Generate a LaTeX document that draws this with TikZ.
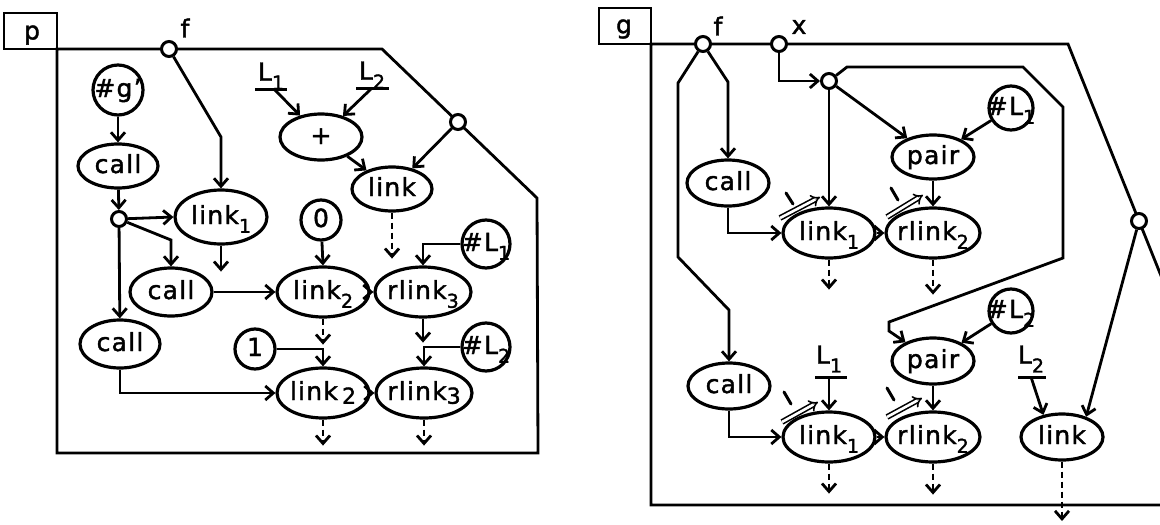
\documentclass[tikz,border=0pt]{standalone}
\usepackage{fontspec}
\newfontfamily\hand[LetterSpace=5,FakeBold=1.6]{DejaVu Sans}
\usetikzlibrary{shapes.geometric,arrows.meta}
\newcommand\subx[1]{\raisebox{-0.35em}{\fontsize{19}{22}\selectfont #1}}
\newcommand\subb[1]{\raisebox{-0.15em}{\fontsize{22}{24}\selectfont #1}}
\newcommand\mb[1]{\makebox[0pt]{#1}}
\begin{document}
\begin{tikzpicture}[x=1pt,y=-1pt,line width=2.8pt,
  every node/.style={font=\hand\fontsize{25}{30}\selectfont},
  arr/.style={-{Straight Barb[length=8pt,width=14pt]}},
  darr/.style={arr,dash pattern=on 6pt off 4pt},
  el/.style 2 args={ellipse,draw,line width=3.2pt,inner sep=0pt,minimum width=#1,minimum height=#2,text height=19pt,text depth=5pt},
  cir/.style={circle,draw,line width=3.2pt,inner sep=0pt,minimum size=#1,text height=19pt,text depth=5pt},
  port/.style={circle,draw,line width=3pt,inner sep=0pt,minimum size=15pt,fill=white,
    path picture={\fill (path picture bounding box.center) circle (2.8pt);}},
  frame/.style={line width=2.8pt},
  bar/.style={line width=3pt},
  dbl/.style={double,double distance=2.6pt,line width=1.6pt,-{Implies}},
  slashmark/.style={line width=3pt,line cap=round}]
\useasboundingbox (0,0) rectangle (1160,525);
\clip (0,0) rectangle (1160,525);

% ================= LEFT: p =================
\draw[frame] (4,13) rectangle (57,49);
\node (plab) at (32,35) {p};
\draw[frame] (57,49) -- (382,49) -- (537,198) -- (538,453) -- (57,453) -- cycle;

\node[port] (fL) at (169,49) {};
\node (fLt) at (185,28) {f};
\node[port] (pR) at (458,122) {};

\node[cir=50pt] (gp) at (118,90) {\mb{\#g’}};
\node[el={80pt}{44pt}] (callA) at (118,166) {\mb{call}};
\node[port] (dotL) at (119,219) {};
\node[el={92pt}{54pt}] (link1L) at (221,217) {\mb{link\subx1}};
\node[el={82pt}{48pt}] (callB) at (171,292) {\mb{call}};
\node[el={80pt}{48pt}] (callC) at (120,344) {\mb{call}};
\node[el={82pt}{46pt}] (plus) at (321,137) {\mb{+}};
\node[el={80pt}{44pt}] (linkL) at (392,189) {\mb{link}};
\node[cir=40pt] (zero) at (321,220) {\mb{0}};
\node[el={92pt}{50pt}] (link2L) at (323,292) {\mb{link\subx2}};
\node[el={96pt}{50pt}] (rlink3L) at (423,292) {\mb{rlink\subx3}};
\node[cir=48pt] (hL1) at (486,244) {\mb{\#L\subx1}};
\node[cir=40pt] (one) at (255,349) {\mb{1}};
\node[el={92pt}{50pt}] (link2bL) at (323,393) {\mb{link\,\subb2}};
\node[el={96pt}{50pt}] (rlink3bL) at (424,393) {\mb{rlink\subb3}};
\node[cir=48pt] (hL2) at (486,347) {\mb{\#L\subx2}};

\node (L1L) at (271,76) {L\subx1};
\coordinate (l1a) at (255,89); \coordinate (l1b) at (287,89); \coordinate (l1m) at (274,89);
\draw[bar] (l1a) -- (l1b);
\node (L2L) at (372,75) {L\subx2};
\coordinate (l2a) at (356,88); \coordinate (l2b) at (389,88); \coordinate (l2m) at (372,88);
\draw[bar] (l2a) -- (l2b);

\coordinate (bendF) at (221,137);
\coordinate (bendB) at (171,240);
\draw[arr] (fL) -- (bendF) -- (link1L.north);
\draw[arr] (gp) -- (callA);
\draw[arr] (callA) -- (dotL);
\draw[arr] (dotL) -- (link1L.west);
\draw[arr] (dotL) -- (bendB) -- (callB.north);
\draw[arr] (dotL) -- (callC);
\draw[arr] (link1L.south) -- ++(0,26) coordinate (o1);
\draw[arr] (l1m) -- (plus);
\draw[arr] (l2m) -- (plus);
\draw[arr] (plus) -- (linkL);
\draw[arr] (pR) -- (linkL);
\draw[darr] (linkL.south) -- ++(0,46) coordinate (o2);
\draw[arr] (zero) -- (link2L.north);
\draw[arr] (callB) -- (link2L);
\draw[arr] (link2L) -- (rlink3L);
\draw[arr] (hL1.west) -| (rlink3L.north);
\draw[darr] (link2L.south) -- ++(0,26) coordinate (o3);
\draw[arr] (rlink3L.south) -- ++(0,24) coordinate (o4);
\draw[arr] (one.east) -| (link2bL.north);
\draw[arr] (hL2.west) -| (rlink3bL.north);
\draw[arr] (callC.south) |- (link2bL.west);
\draw[arr] (link2bL) -- (rlink3bL);
\draw[darr] (link2bL.south) -- ++(0,26) coordinate (o5);
\draw[darr] (rlink3bL.south) -- ++(0,26) coordinate (o6);

% ================= RIGHT: g =================
\draw[frame] (599,8) rectangle (651,44);
\node (glab) at (624,29) {g};
\draw[frame] (651,44) -- (1068,44) -- (1253,505) -- (651,505) -- cycle;

\node[port] (fR) at (703,44) {};
\node (fRt) at (718,26) {f};
\node[port] (xR) at (779,44) {};
\node (xRt) at (799,27) {x};
\node[port] (jR) at (829,81) {};
\node[port] (pR2) at (1139,221) {};

\node[el={82pt}{46pt}] (callRa) at (728,183) {\mb{call}};
\node[el={92pt}{50pt}] (link1Ra) at (829,233) {\mb{link\subx1}};
\node[el={82pt}{44pt}] (pairA) at (933,157) {\mb{pair}};
\node[cir=44pt] (hL1R) at (1011,108) {\mb{\#L\subx1}};
\node[el={94pt}{50pt}] (rlink2Ra) at (933,233) {\mb{rlink\subx2}};

\node[el={82pt}{46pt}] (callRb) at (729,386) {\mb{call}};
\node[el={92pt}{50pt}] (link1Rb) at (829,437) {\mb{link\subx1}};
\node[el={82pt}{46pt}] (pairB) at (933,361) {\mb{pair}};
\node[cir=44pt] (hL2R) at (1011,311) {\mb{\#L\subx2}};
\node[el={94pt}{50pt}] (rlink2Rb) at (933,437) {\mb{rlink\subx2}};
\node[el={82pt}{46pt}] (linkR) at (1062,437) {\mb{link}};

\node (L1R) at (829,359) {L\subx1};
\coordinate (r1a) at (815,377); \coordinate (r1b) at (847,377); \coordinate (r1m) at (829,377);
\draw[bar] (r1a) -- (r1b);
\node (L2R) at (1031,359) {L\subx2};
\coordinate (r2a) at (1018,377); \coordinate (r2b) at (1046,377); \coordinate (r2m) at (1031,377);
\draw[bar] (r2a) -- (r2b);

\draw[arr] (fR) -- (728,82) -- (callRa.north);
\draw[arr] (fR) -- (678,83) -- (678,257) -- (729,310) -- (callRb.north);
\draw[arr] (xR) |- (jR);
\draw[arr] (jR) -- (link1Ra.north);
\draw[arr] (jR) -- (pairA);
\draw[arr] (jR) -- (847,67) -- (1023,67) -- (1063,107) -- (1063,258) -- (889,322) -- (889,331) -- (pairB);
\draw[arr] (hL1R) -- (pairA);
\draw[arr] (pairA) -- (rlink2Ra);
\draw[arr] (callRa.south) |- (link1Ra.west);
\draw[arr] (link1Ra) -- (rlink2Ra);
\draw[darr] (link1Ra.south) -- ++(0,30) coordinate (q1);
\draw[darr] (rlink2Ra.south) -- ++(0,35) coordinate (q2);

\draw[arr] (callRb.south) |- (link1Rb.west);
\draw[arr] (r1m) -- (link1Rb.north);
\draw[arr] (link1Rb) -- (rlink2Rb);
\draw[arr] (hL2R) -- (pairB);
\draw[arr] (pairB) -- (rlink2Rb);
\draw[darr] (link1Rb.south) -- ++(0,30) coordinate (q3);
\draw[darr] (rlink2Rb.south) -- ++(0,31) coordinate (q4);
\draw[arr] (r2m) -- (linkR.130);
\draw[arr] (pR2) -- (linkR.40);
\draw[darr] (linkR.south) -- (1062,521);

% double arrows with marks
\draw[dbl] (780,218) -- (820,197);
\draw[slashmark] (786,193) -- (793,204);
\draw[dbl] (887,217) -- (923,195);
\draw[slashmark] (891,188) -- (898,200);
\draw[dbl] (782,422) -- (818,402);
\draw[slashmark] (784,392) -- (791,404);
\draw[dbl] (887,417) -- (922,398);
\draw[slashmark] (887,388) -- (894,400);
\end{tikzpicture}
\end{document}
